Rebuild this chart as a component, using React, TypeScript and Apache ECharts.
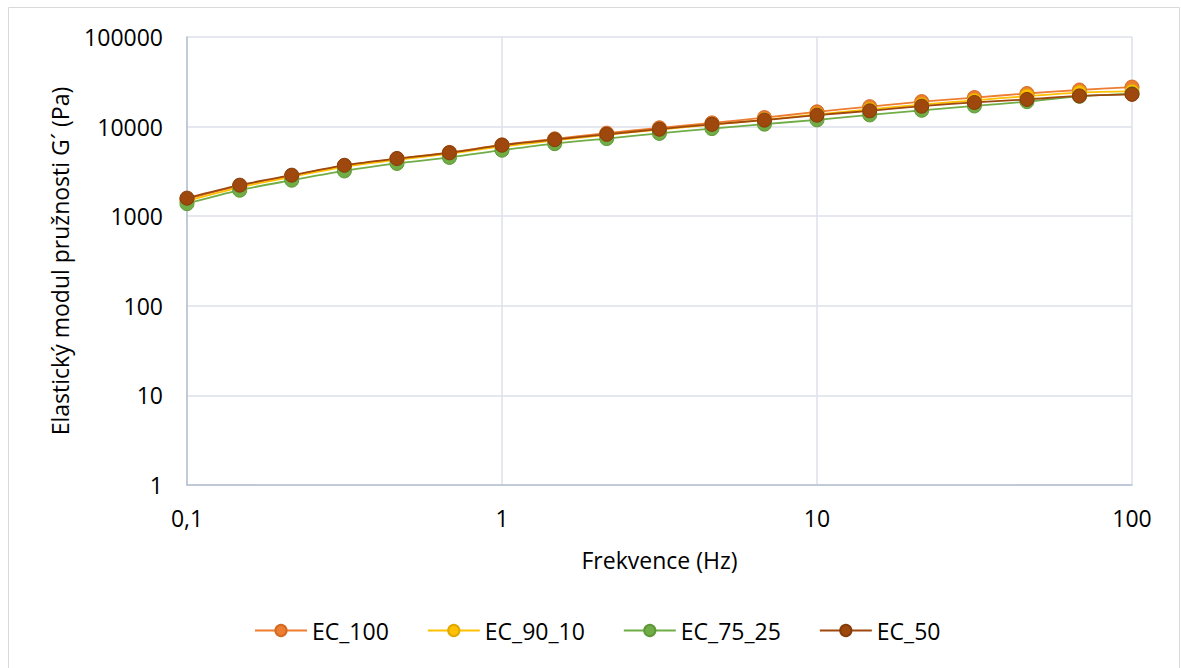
import React, { useEffect, useRef } from "react";
import * as echarts from "echarts";

// Frequency sweep points (Hz), six per decade
const frequency = [
  0.1, 0.147, 0.215, 0.316, 0.464, 0.681, 1, 1.47, 2.15, 3.16, 4.64, 6.81, 10,
  14.7, 21.5, 31.6, 46.4, 68.1, 100,
];

// Storage modulus G' (Pa) for each blend
const ec100 = [
  1550, 2180, 2830, 3660, 4380, 5150, 6250, 7300, 8450, 9700, 11000, 12600,
  14600, 16700, 19000, 21100, 23400, 25600, 27600,
];
const ec90_10 = [
  1480, 2100, 2750, 3560, 4250, 4980, 6000, 7000, 8100, 9250, 10500, 11900,
  13700, 15600, 17600, 19600, 21900, 24000, 24700,
];
const ec75_25 = [
  1380, 1950, 2520, 3200, 3880, 4530, 5450, 6450, 7350, 8400, 9500, 10650,
  11900, 13500, 15200, 17000, 19000, 21800, 23200,
];
const ec50 = [
  1590, 2220, 2870, 3700, 4400, 5100, 6200, 7150, 8200, 9350, 10600, 11800,
  13400, 15000, 16900, 18600, 20100, 22000, 22900,
];

const seriesDefs = [
  { name: "EC_100", data: ec100, color: "#ED7D31", border: "#D46A22" },
  { name: "EC_90_10", data: ec90_10, color: "#FFC000", border: "#E0A800" },
  { name: "EC_75_25", data: ec75_25, color: "#70AD47", border: "#5E9839" },
  { name: "EC_50", data: ec50, color: "#9E480E", border: "#853B0A" },
];

const FONT = "'Open Sans', 'Noto Sans', sans-serif";

export default function App() {
  const ref = useRef<HTMLDivElement>(null);

  useEffect(() => {
    if (!ref.current) return;
    const chart = echarts.init(ref.current, undefined, { renderer: "svg" });

    chart.setOption({
      animation: false,
      backgroundColor: "#ffffff",
      textStyle: { fontFamily: FONT, color: "#000" },
      graphic: [
        {
          type: "rect",
          shape: { x: 8.5, y: 7.5, width: 1171, height: 670 },
          style: { fill: "none", stroke: "#d9d9d9", lineWidth: 1 },
          silent: true,
        },
      ],
      grid: { left: 187, right: 49, top: 37, bottom: 183 },
      legend: {
        left: 254,
        top: 619,
        padding: 0,
        itemWidth: 52,
        itemHeight: 14,
        itemGap: 38,
        textStyle: { fontFamily: FONT, fontSize: 23, color: "#000" },
        data: seriesDefs.map((s) => s.name),
      },
      xAxis: {
        type: "log",
        logBase: 10,
        min: 0.1,
        max: 100,
        name: "Frekvence (Hz)",
        nameLocation: "middle",
        nameGap: 63,
        nameTextStyle: { fontFamily: FONT, fontSize: 23, color: "#000" },
        axisLine: { show: true, lineStyle: { color: "#b4bfd2", width: 1.5 } },
        axisTick: { show: false },
        minorTick: { show: false },
        axisLabel: {
          fontFamily: FONT,
          fontSize: 23,
          color: "#000",
          margin: 21,
          formatter: (v: number) =>
            String(Number(v.toPrecision(6))).replace(".", ","),
        },
        splitLine: { show: true, lineStyle: { color: "#dde2ea", width: 1.5 } },
      },
      yAxis: {
        type: "log",
        logBase: 10,
        min: 1,
        max: 100000,
        name: "Elastický modul pružnosti G´ (Pa)",
        nameLocation: "middle",
        nameGap: 116,
        nameTextStyle: { fontFamily: FONT, fontSize: 23, color: "#000" },
        axisLine: { show: true, lineStyle: { color: "#b4bfd2", width: 1.5 } },
        axisTick: { show: false },
        axisLabel: {
          fontFamily: FONT,
          fontSize: 23,
          color: "#000",
          margin: 24,
          formatter: (v: number) => String(Math.round(v)),
        },
        splitLine: { show: true, lineStyle: { color: "#dde2ea", width: 1.5 } },
      },
      series: seriesDefs.map((s) => ({
        name: s.name,
        type: "line",
        smooth: 0.3,
        symbol: "circle",
        symbolSize: 14,
        data: frequency.map((f, i) => [f, s.data[i]]),
        lineStyle: { color: s.color, width: 1.8 },
        itemStyle: { color: s.color, borderColor: s.border, borderWidth: 1 },
        emphasis: { disabled: true },
      })),
    });

    return () => chart.dispose();
  }, []);

  return (
    <div
      ref={ref}
      style={{ position: "fixed", left: 0, top: 0, width: 1181, height: 668 }}
    />
  );
}
